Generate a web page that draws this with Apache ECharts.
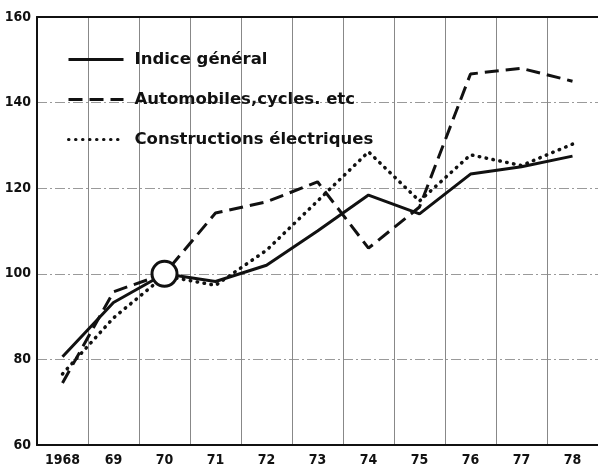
<!DOCTYPE html>
<html>
<head>
<meta charset="utf-8">
<script src="https://cdn.jsdelivr.net/npm/echarts@6/dist/echarts.min.js"></script>
<style>
  html, body { margin: 0; padding: 0; background: #fff; }
  #chart { width: 598px; height: 472px; }
</style>
</head>
<body>
<div id="chart"></div>
<script>
// années (abscisse)
const years = ['1968', '69', '70', '71', '72', '73', '74', '75', '76', '77', '78']
// indices, base 100 en 1970
const indiceGeneral = [80.6, 93.3, 100, 98.2, 102, 110, 118.4, 114, 123.3, 125, 127.5]
const automobiles = [74.5, 95.8, 100, 114.2, 116.8, 121.5, 106, 115.6, 146.7, 148, 145]
const electriques = [76.6, 89.7, 99.5, 97.3, 105.5, 117, 128.5, 117, 127.8, 125.3, 130.3]
// point de base
const base = [null, null, 100, null, null, null, null, null, null, null, null]

const names = ['Indice général', 'Automobiles,cycles. etc', 'Constructions électriques']

const chart = echarts.init(document.getElementById('chart'), null, { renderer: 'canvas' })

const axisFont = {
  color: '#111',
  fontSize: 14,
  fontWeight: 'bold',
  fontFamily: 'DejaVu Sans Condensed'
}

const options = {
  backgroundColor: '#fff',
  animation: false,
  grid: {
    left: 37,
    right: -3,
    top: 17,
    bottom: 27
  },
  legend: {
    data: names,
    orient: 'vertical',
    left: 62,
    top: 46,
    itemWidth: 55,
    itemHeight: 14,
    itemGap: 23,
    itemStyle: { color: 'transparent', borderColor: 'transparent', borderWidth: 0 },
    lineStyle: { width: 3 },
    textStyle: {
      color: '#111',
      fontSize: 16.5,
      fontWeight: 'bold',
      fontFamily: 'DejaVu Sans',
      padding: [0, 0, 0, 6]
    }
  },
  xAxis: [
    {
      type: 'category',
      data: years,
      boundaryGap: true,
      axisLine: { show: true, lineStyle: { color: '#111', width: 2 } },
      axisTick: { show: false },
      axisLabel: Object.assign({ margin: 8 }, axisFont),
      splitLine: {
        show: true,
        interval: 0,
        lineStyle: { color: '#888', width: 1 }
      }
    },
    {
      // filet du haut
      type: 'category',
      data: years,
      position: 'top',
      axisLine: { show: true, lineStyle: { color: '#111', width: 2 } },
      axisTick: { show: false },
      axisLabel: { show: false },
      splitLine: { show: false }
    }
  ],
  yAxis: {
    type: 'value',
    min: 60,
    max: 160,
    interval: 20,
    axisLine: { show: true, lineStyle: { color: '#111', width: 2 } },
    axisTick: { show: false },
    axisLabel: Object.assign({ margin: 6 }, axisFont),
    splitLine: {
      show: true,
      lineStyle: { color: '#9a9a9a', width: 1, type: [10, 3, 2, 3] }
    }
  },
  series: [
    {
      name: names[0],
      type: 'line',
      data: indiceGeneral,
      symbol: 'none',
      z: 3,
      itemStyle: { color: '#111' },
      lineStyle: { color: '#111', width: 3 }
    },
    {
      name: names[1],
      type: 'line',
      data: automobiles,
      symbol: 'none',
      z: 3,
      itemStyle: { color: '#111' },
      lineStyle: { color: '#111', width: 3, type: [14, 7] }
    },
    {
      name: names[2],
      type: 'line',
      data: electriques,
      symbol: 'none',
      z: 3,
      itemStyle: { color: '#111' },
      lineStyle: { color: '#111', width: 3.5, type: [0.5, 6.5], cap: 'round' }
    },
    {
      name: 'base',
      type: 'scatter',
      data: base,
      symbol: 'circle',
      symbolSize: 25,
      z: 5,
      itemStyle: { color: '#fff', borderColor: '#111', borderWidth: 3, opacity: 1 }
    }
  ]
}

chart.setOption(options)
</script>
</body>
</html>
